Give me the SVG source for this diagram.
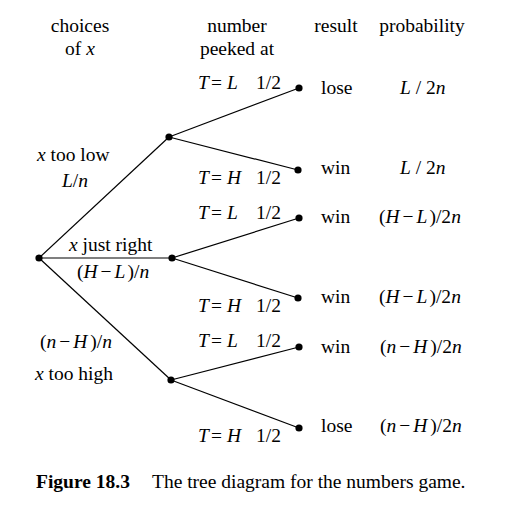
<svg xmlns="http://www.w3.org/2000/svg" width="516" height="505" viewBox="0 0 516 505">
<style>
text{font-family:"Liberation Serif","Times New Roman",serif;font-size:19.5px;fill:#000}
.i{font-style:italic}
.b{font-weight:bold}
.m{text-anchor:middle}
line{stroke:#000;stroke-width:1.2}
circle{fill:#000}
</style>
<rect width="516" height="505" fill="#fff"/>
<g id="headers">
<text class="m" x="80" y="32">choices</text>
<text class="m" x="80" y="55">of <tspan class="i">x</tspan></text>
<text class="m" x="237" y="32">number</text>
<text class="m" x="237" y="55">peeked at</text>
<text class="m" x="336" y="32">result</text>
<text class="m" x="422" y="32">probability</text>
</g>
<g id="connectors">
<line x1="39" y1="258" x2="169" y2="137"/>
<line x1="39" y1="258" x2="172" y2="258"/>
<line x1="39" y1="258" x2="171" y2="380"/>
<line x1="169" y1="137" x2="299" y2="88"/>
<line x1="169" y1="137" x2="298" y2="170"/>
<line x1="172" y1="258" x2="299" y2="218"/>
<line x1="172" y1="258" x2="298" y2="298"/>
<line x1="171" y1="380" x2="299" y2="347"/>
<line x1="171" y1="380" x2="299" y2="428"/>
</g>
<g id="root"><circle cx="39" cy="258" r="3.6"/></g>
<g id="low"><circle cx="169" cy="137" r="3.6"/>
<text x="37" y="161"><tspan class="i">x</tspan> too low</text>
<text x="62" y="187"><tspan class="i">L</tspan>/<tspan class="i">n</tspan></text></g>
<g id="right"><circle cx="172" cy="258" r="3.6"/>
<text x="69" y="251"><tspan class="i">x</tspan> just right</text>
<text x="77" y="278">(<tspan class="i">H</tspan><tspan dx="3">−</tspan><tspan class="i" dx="3">L</tspan><tspan dx="2">)/</tspan><tspan class="i">n</tspan></text></g>
<g id="high"><circle cx="171" cy="380" r="3.6"/>
<text x="40" y="348">(<tspan class="i">n</tspan><tspan dx="3">−</tspan><tspan class="i" dx="3">H</tspan><tspan dx="3">)/</tspan><tspan class="i">n</tspan></text>
<text x="35" y="380"><tspan class="i">x</tspan> too high</text></g>
<g id="leaf1"><circle cx="299" cy="88" r="3.6"/>
<text x="198" y="89"><tspan class="i">T</tspan><tspan x="211">=</tspan><tspan class="i" x="227">L</tspan><tspan x="256">1/2</tspan></text>
<text x="321" y="94">lose</text>
<text x="400" y="94"><tspan class="i">L</tspan> / 2<tspan class="i">n</tspan></text></g>
<g id="leaf2"><circle cx="298" cy="170" r="3.6"/>
<text x="198" y="184"><tspan class="i">T</tspan><tspan x="211">=</tspan><tspan class="i" x="227">H</tspan><tspan x="256">1/2</tspan></text>
<text x="321" y="174">win</text>
<text x="400" y="174"><tspan class="i">L</tspan> / 2<tspan class="i">n</tspan></text></g>
<g id="leaf3"><circle cx="299" cy="218" r="3.6"/>
<text x="198" y="219"><tspan class="i">T</tspan><tspan x="211">=</tspan><tspan class="i" x="227">L</tspan><tspan x="256">1/2</tspan></text>
<text x="321" y="223">win</text>
<text x="379" y="223">(<tspan class="i">H</tspan><tspan dx="3">−</tspan><tspan class="i" dx="3">L</tspan><tspan dx="2">)/2</tspan><tspan class="i">n</tspan></text></g>
<g id="leaf4"><circle cx="298" cy="298" r="3.6"/>
<text x="198" y="312"><tspan class="i">T</tspan><tspan x="211">=</tspan><tspan class="i" x="227">H</tspan><tspan x="256">1/2</tspan></text>
<text x="321" y="303">win</text>
<text x="379" y="303">(<tspan class="i">H</tspan><tspan dx="3">−</tspan><tspan class="i" dx="3">L</tspan><tspan dx="2">)/2</tspan><tspan class="i">n</tspan></text></g>
<g id="leaf5"><circle cx="299" cy="347" r="3.6"/>
<text x="198" y="347"><tspan class="i">T</tspan><tspan x="211">=</tspan><tspan class="i" x="227">L</tspan><tspan x="256">1/2</tspan></text>
<text x="321" y="353">win</text>
<text x="380" y="353">(<tspan class="i">n</tspan><tspan dx="3">−</tspan><tspan class="i" dx="3">H</tspan><tspan dx="3">)/2</tspan><tspan class="i">n</tspan></text></g>
<g id="leaf6"><circle cx="299" cy="428" r="3.6"/>
<text x="198" y="442"><tspan class="i">T</tspan><tspan x="211">=</tspan><tspan class="i" x="227">H</tspan><tspan x="256">1/2</tspan></text>
<text x="321" y="432">lose</text>
<text x="380" y="432">(<tspan class="i">n</tspan><tspan dx="3">−</tspan><tspan class="i" dx="3">H</tspan><tspan dx="3">)/2</tspan><tspan class="i">n</tspan></text></g>
<g id="caption">
<text x="36" y="488"><tspan class="b">Figure 18.3</tspan><tspan x="152">The tree diagram for the numbers game.</tspan></text>
</g>
</svg>
